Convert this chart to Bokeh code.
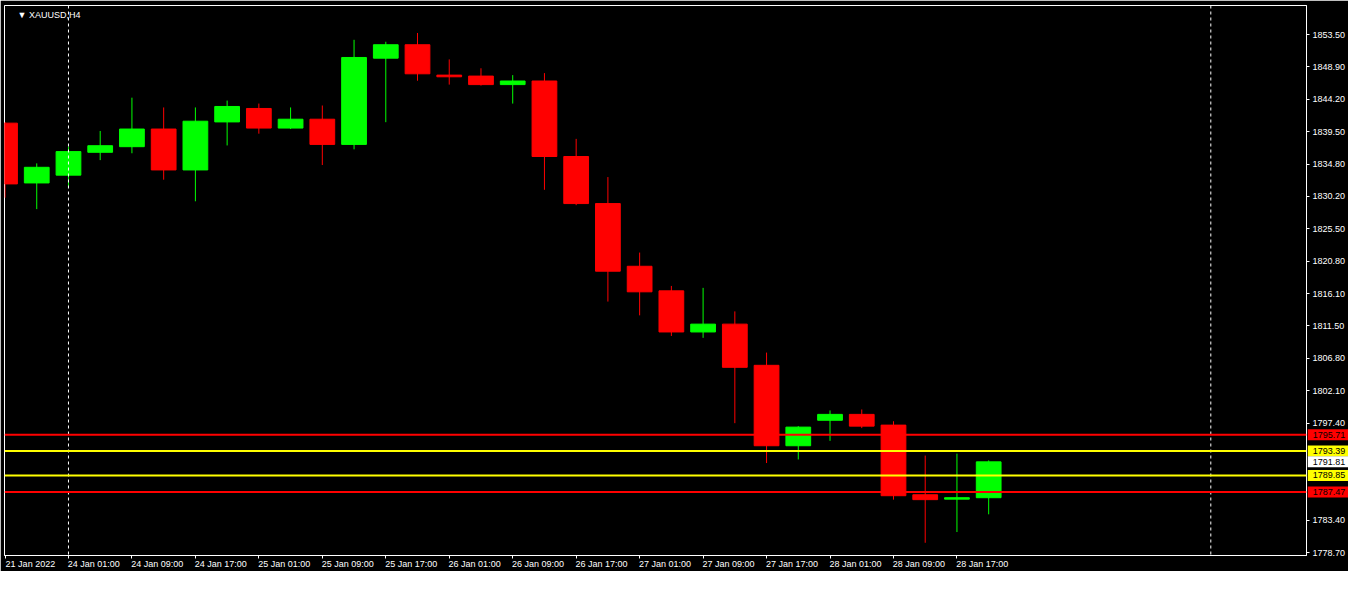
from bokeh.plotting import figure
from bokeh.models import (ColumnDataSource, FixedTicker, PrintfTickFormatter,
                          Span, Label, Range1d, LinearAxis)
from bokeh.core.properties import value
from bokeh.embed import file_html
from bokeh.resources import INLINE

# ---------------- data ----------------
symbol_title = "\u25BC XAUUSD,H4"
opens = [1840.75, 1832.11, 1833.24, 1836.54, 1837.35, 1839.90, 1833.99, 1840.93,
         1842.87, 1840.04, 1841.32, 1837.68, 1850.14, 1852.08, 1847.69, 1847.55,
         1846.32, 1846.84, 1835.93, 1829.13, 1820.07, 1816.52, 1810.58, 1811.71,
         1805.76, 1794.14, 1797.82, 1798.67, 1797.12, 1787.06, 1786.42, 1786.63]
highs = [1840.90, 1834.94, 1837.35, 1839.62, 1844.43, 1843.02, 1843.02, 1844.01,
         1843.58, 1843.02, 1843.30, 1852.79, 1852.51, 1853.78, 1849.96, 1848.68,
         1847.69, 1847.98, 1838.48, 1832.96, 1822.05, 1817.23, 1816.95, 1813.55,
         1807.60, 1796.97, 1799.24, 1799.38, 1797.68, 1792.72, 1793.00, 1792.02]
lows = [1829.98, 1828.33, 1831.44, 1835.41, 1836.40, 1832.58, 1829.46, 1837.53,
        1839.23, 1839.90, 1834.70, 1836.97, 1840.89, 1846.88, 1846.32, 1846.18,
        1843.58, 1831.12, 1828.90, 1814.97, 1812.98, 1810.00, 1809.73, 1797.40,
        1791.64, 1792.16, 1794.85, 1796.69, 1786.35, 1780.12, 1781.67, 1784.23]
closes = [1831.97, 1834.37, 1836.64, 1837.49, 1839.90, 1833.99, 1841.03, 1843.16,
          1840.04, 1841.32, 1837.68, 1850.24, 1852.08, 1847.88, 1847.45, 1846.32,
          1846.84, 1835.93, 1829.13, 1819.36, 1816.38, 1810.58, 1811.71, 1805.47,
          1794.14, 1796.83, 1798.67, 1796.97, 1786.92, 1786.35, 1786.63, 1791.81]

time_tick_idx = [0, 2, 4, 6, 8, 10, 12, 14, 16, 18, 20, 22, 24, 26, 28, 30]
time_tick_labels = ["21 Jan 2022", "24 Jan 01:00", "24 Jan 09:00", "24 Jan 17:00",
                    "25 Jan 01:00", "25 Jan 09:00", "25 Jan 17:00", "26 Jan 01:00",
                    "26 Jan 09:00", "26 Jan 17:00", "27 Jan 01:00", "27 Jan 09:00",
                    "27 Jan 17:00", "28 Jan 01:00", "28 Jan 09:00", "28 Jan 17:00"]
price_ticks = [1853.5, 1848.9, 1844.2, 1839.5, 1834.8, 1830.2, 1825.5, 1820.8,
               1816.1, 1811.5, 1806.8, 1802.1, 1797.4, 1783.4, 1778.7]

separator_idx = [2, 38]
level_prices = [1795.71, 1793.39, 1789.85, 1787.47]
level_colors = ["#ff0000", "#ffff00", "#ffff00", "#ff0000"]
current_price = 1791.81

# ---------------- derived ----------------
idx = list(range(len(opens)))
up = [c >= o for o, c in zip(opens, closes)]
colors = ["#00ff00" if u else "#ff0000" for u in up]
src = ColumnDataSource(dict(
    x=idx, open=opens, high=highs, low=lows, close=closes,
    top=[max(o, c) for o, c in zip(opens, closes)],
    bottom=[min(o, c) for o, c in zip(opens, closes)],
    color=colors,
))

X0, X1 = -0.016, 41.016
Y0, Y1 = 1778.28, 1857.75
FW, FH = 1302, 550
LABEL_SHIFT = 0.8   # text of a time label starts at its tick
TAG_GAP = 0.04      # gap between frame edge and a price tag (x units)
TAG_W = 1.36        # width of a price tag (x units)

FONT = "Liberation Sans"

p = figure(frame_width=FW, frame_height=FH,
           x_range=Range1d(X0, X1), y_range=Range1d(Y0, Y1),
           y_axis_location="right", output_backend="svg",
           toolbar_location=None, background_fill_color="black",
           border_fill_color="black", outline_line_color="white",
           min_border_left=4, min_border_top=5, min_border_right=0,
           min_border_bottom=0)
p.xgrid.visible = False
p.ygrid.visible = False

# wicks and bodies
p.segment(x0="x", y0="low", x1="x", y1="high", color="color", line_width=1,
          source=src)
p.vbar(x="x", top="top", bottom="bottom", width=0.78, fill_color="color",
       line_color="color", line_width=1, source=src)

# period separators
for s in separator_idx:
    p.add_layout(Span(location=s, dimension="height", line_color="white",
                      line_width=1, line_dash="3 3"))

# horizontal levels
for lv, col in zip(level_prices, level_colors):
    p.add_layout(Span(location=lv, dimension="width", line_color=col,
                      line_width=2))

# x axis: tick marks only
xa = p.xaxis[0]
xa.ticker = FixedTicker(ticks=time_tick_idx)
xa.major_label_overrides = {i: "" for i in time_tick_idx}
xa.major_label_text_font_size = "1px"
xa.major_tick_in = 0
xa.major_tick_out = 3
xa.major_tick_line_color = "white"
xa.minor_tick_line_color = None
xa.axis_line_color = "white"
xa.major_label_standoff = 0

# x axis labels: starting at their ticks
label_pos = [i + LABEL_SHIFT for i in time_tick_idx]
xl = LinearAxis(ticker=FixedTicker(ticks=label_pos),
                major_label_overrides={pos: t for pos, t in zip(label_pos, time_tick_labels)},
                major_label_text_color="white", major_label_text_font=FONT,
                major_label_text_font_size="9px", major_tick_line_color=None,
                minor_tick_line_color=None, axis_line_color=None,
                major_label_standoff=0, major_tick_in=0, major_tick_out=0)
p.add_layout(xl, "below")

ya = p.yaxis[0]
ya.ticker = FixedTicker(ticks=price_ticks)
ya.formatter = PrintfTickFormatter(format="%.2f")
ya.major_label_text_color = "white"
ya.major_label_text_font = FONT
ya.major_label_text_font_size = "9px"
ya.major_tick_in = 0
ya.major_tick_out = 3
ya.major_tick_line_color = "white"
ya.minor_tick_line_color = None
ya.axis_line_color = "white"
ya.major_label_standoff = 3

# price tags on the price scale (overlay level, drawn over the axis)
tag_prices = level_prices + [current_price]
tag_colors = level_colors + ["white"]
tag_src = ColumnDataSource(dict(
    x=[X1 + TAG_GAP + TAG_W / 2] * len(tag_prices),
    tx=[X1 + TAG_GAP] * len(tag_prices),
    y=tag_prices,
    text=["%.2f" % v for v in tag_prices], bg=tag_colors,
))
p.rect(x="x", y="y", width=TAG_W, height=11, height_units="screen",
       fill_color="bg", line_color=None, source=tag_src, level="overlay")
p.text(x="tx", y="y", text="text", x_offset=5, text_align="left",
       text_baseline="middle", text_color="black", text_font=value(FONT),
       text_font_size="9px", source=tag_src, level="overlay")

# symbol title
p.add_layout(Label(x=13, y=FH - 14, x_units="screen", y_units="screen",
                   text=symbol_title, text_color="white", text_font=FONT,
                   text_font_size="9px", text_baseline="bottom"))

open("out.html", "w").write(file_html(p, INLINE))
